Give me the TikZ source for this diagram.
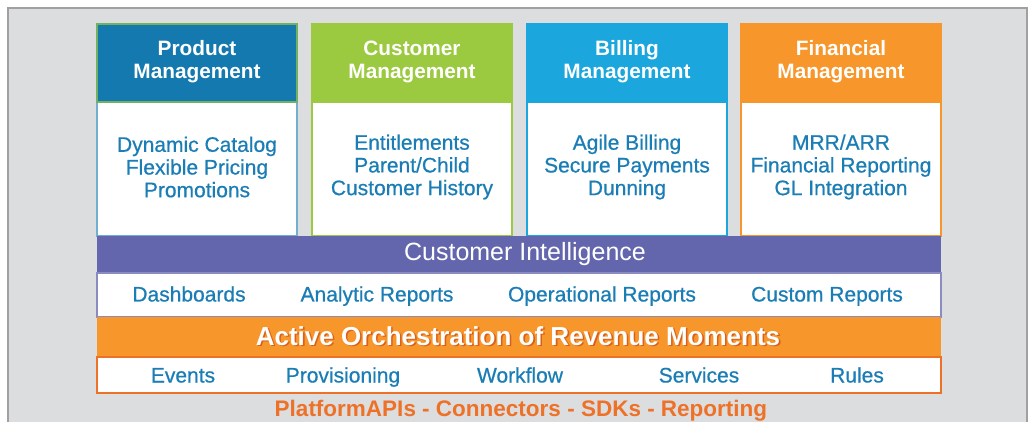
\documentclass[tikz,border=0pt]{standalone}
\usepackage{fontspec}
\setmainfont{Liberation Sans}
\newfontfamily\medfont[FakeBold=0.6]{Liberation Sans}
\definecolor{panel}{HTML}{DCDDDF}
\definecolor{panelline}{HTML}{A0A0A2}
\definecolor{prodc}{HTML}{1479AE}
\definecolor{custc}{HTML}{9BC93F}
\definecolor{billc}{HTML}{1BA7DE}
\definecolor{finc}{HTML}{F7962A}
\definecolor{purp}{HTML}{6366AD}
\definecolor{txtblue}{HTML}{1A7DB5}
\definecolor{orgtxt}{HTML}{EE7128}
\definecolor{shadowor}{HTML}{D9601A}
\begin{document}
\begin{tikzpicture}[x=1pt,y=-1pt,
  hdr/.style={font=\fontsize{20.8}{23}\selectfont\bfseries, text=white, align=center},
  bodytxt/.style={font=\fontsize{21}{22.7}\selectfont\medfont, text=txtblue, align=center},
  rowtxt/.style={font=\fontsize{21}{22}\selectfont\medfont, text=txtblue, anchor=base}]
\useasboundingbox (0,0) rectangle (1031,422);
\fill[white] (0,0) rectangle (1031,422);
\draw[panelline, fill=panel, line width=1.5pt] (8,440) -- (8,8) -- (1027,8) -- (1027,440);
% Product
\draw[line width=1.2pt, draw=prodc!60, fill=white] (97,102) rectangle (297,236);
\draw[line width=1.2pt, draw=custc!70!prodc, fill=prodc] (97,24) rectangle (297,102);
% Customer
\draw[line width=1.2pt, draw=custc, fill=white] (312,102) rectangle (512,236);
\draw[line width=1.2pt, draw=custc, fill=custc] (312,24) rectangle (512,102);
% Billing
\draw[line width=1.2pt, draw=billc, fill=white] (527,102) rectangle (727,236);
\draw[line width=1.2pt, draw=billc, fill=billc] (527,24) rectangle (727,102);
% Financial
\draw[line width=1.2pt, draw=finc, fill=white] (741,102) rectangle (941,236);
\draw[line width=1.2pt, draw=finc, fill=finc] (741,24) rectangle (941,102);

\node[hdr] (h1) at (197,61.5) {Product\\Management};
\node[hdr] (h2) at (412,61.5) {Customer\\Management};
\node[hdr] (h3) at (627,61.5) {Billing\\Management};
\node[hdr] (h4) at (841,61.5) {Financial\\Management};

\node[bodytxt] (b1) at (197,167) {Dynamic Catalog\\Flexible Pricing\\Promotions};
\node[bodytxt] (b2) at (412,167) {Entitlements\\Parent/Child\\Customer History};
\node[bodytxt] (b3) at (627,167) {Agile Billing\\Secure Payments\\Dunning};
\node[bodytxt] (b4) at (841,167) {MRR/ARR\\Financial Reporting\\GL Integration};

% Customer Intelligence
\fill[purp] (97,236) rectangle (941,273);
\node[font=\fontsize{25}{28}\selectfont, text=white] (ci) at (525,254) {Customer Intelligence};
\draw[line width=1.2pt, draw=purp!75, fill=white] (97,273) rectangle (941,317);
\node[rowtxt] (r1) at (189,301.5) {Dashboards};
\node[rowtxt] (r2) at (377,301.5) {Analytic Reports};
\node[rowtxt] (r3) at (602,301.5) {Operational Reports};
\node[rowtxt] (r4) at (827,301.5) {Custom Reports};

% Orchestration
\fill[finc] (97,317) rectangle (941,357);
\node[font=\fontsize{26}{28}\selectfont\bfseries, text=shadowor] (aos) at (519.6,337.6) {Active Orchestration of Revenue Moments};
\node[font=\fontsize{26}{28}\selectfont\bfseries, text=white] (ao) at (518,336) {Active Orchestration of Revenue Moments};
\draw[line width=1.2pt, draw=orgtxt, fill=white] (97,357) rectangle (941,393);
\node[rowtxt] (e1) at (183,382.5) {Events};
\node[rowtxt] (e2) at (343,382.5) {Provisioning};
\node[rowtxt] (e3) at (520,382.5) {Workflow};
\node[rowtxt] (e4) at (699,382.5) {Services};
\node[rowtxt] (e5) at (857,382.5) {Rules};

\node[font=\fontsize{22.5}{24}\selectfont\bfseries, text=orgtxt] (ft) at (521,411) {PlatformAPIs - Connectors - SDKs - Reporting};
\end{tikzpicture}
\end{document}
